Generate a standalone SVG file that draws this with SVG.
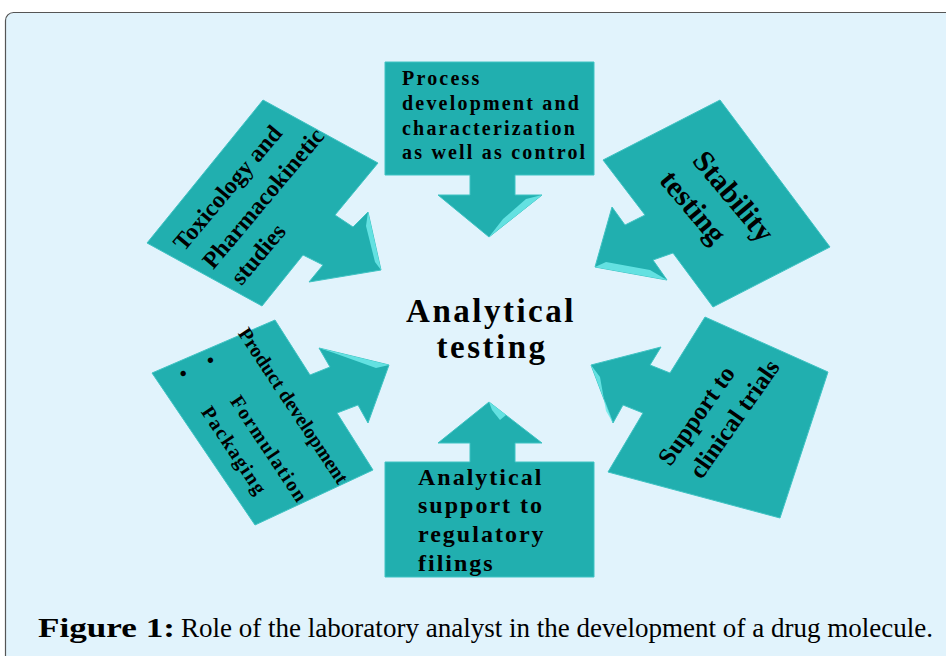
<svg xmlns="http://www.w3.org/2000/svg" width="946" height="656" viewBox="0 0 946 656">
<defs>
<style>
.shape{fill:#21AFAF;stroke:#3FC3C3;stroke-width:1;stroke-linejoin:miter}
.hl{fill:#6FEAEA;opacity:0.85}
.t{font-family:"Liberation Serif","Times New Roman",serif;font-weight:bold;fill:#000}
.cap{font-family:"Liberation Serif","Times New Roman",serif;fill:#000;font-size:27px}
</style>
</defs>
<rect x="0" y="0" width="946" height="656" fill="#ffffff"/>
<rect x="5.5" y="12.5" width="960" height="670" rx="8" ry="8" fill="#E1F3FC" stroke="#555555" stroke-width="1.2"/>

<g id="node-process">
<polygon class="shape" points="385,62 594,62 594,175 515,175 515,195 542,195 489,237 438,195 470,195 470,175 385,175"/>
<polygon class="hl" points="489,237 542,195 526,199 503,219"/>
<g class="t" font-size="20" letter-spacing="2.2">
<text x="402" y="85">Process</text>
<text x="402" y="110">development and</text>
<text x="402" y="134.5">characterization</text>
<text x="402" y="159">as well as control</text>
</g>
</g>

<g id="node-regulatory">
<polygon class="shape" points="385,462 470,462 470,443 438,443 489,402 542,443 515,443 515,462 594,462 594,577 385,577"/>
<polygon class="hl" points="489,402 506,415 500,420 492,410"/>
<g class="t" font-size="24" letter-spacing="2">
<text x="418" y="485">Analytical</text>
<text x="418" y="513">support to</text>
<text x="418" y="542">regulatory</text>
<text x="418" y="571">filings</text>
</g>
</g>

<g id="node-toxicology">
<polygon class="shape" points="263,100 378,163 335,215 353,227 368,212 381,270 309,282 323,265 303,255 262,306 147,243"/>
<polygon class="hl" points="368,212 381,270 375,262 366,226"/>
<g class="t" font-size="24" transform="rotate(-50)">
<text x="-75" y="303">Toxicology and</text>
<text x="-70" y="337">Pharmacokinetic</text>
<text x="-64" y="369">studies</text>
</g>
</g>

<g id="node-stability">
<polygon class="shape" points="603,160 720,100 830,247 713,307 673,253 653,260 667,280 595,267 612,207 625,225 645,215"/>
<polygon class="hl" points="595,267 667,280 650,270 606,262"/>
<g class="t" font-size="30" transform="rotate(50)" text-anchor="middle">
<text x="622" y="-426">Stability</text>
<text x="604" y="-388">testing</text>
</g>
</g>

<g id="node-product">
<polygon class="shape" points="275,320 310,375 330,367 319,348 389,365 368,423 358,405 337,413 373,470 255,525 152,373"/>
<polygon class="hl" points="319,348 389,365 376,368 334,353"/>
<g class="t" font-size="20" transform="rotate(56.5)">
<text x="409" y="-14">Product development</text>
<text x="413" y="30">•</text>
<text x="461" y="30" letter-spacing="1.5">Formulation</text>
<text x="409" y="60">•</text>
<text x="454" y="60" letter-spacing="1.5">Packaging</text>
</g>
</g>

<g id="node-clinical">
<polygon class="shape" points="705,317 828,372 780,518 608,472 643,413 623,405 613,423 591,365 661,347 650,365 670,373"/>
<polygon class="hl" points="591,365 613,423 606,411 600,377"/>
<g class="t" font-size="25" transform="rotate(-55)" text-anchor="middle">
<text x="59" y="817">Support to</text>
<text x="78" y="850">clinical trials</text>
</g>
</g>

<g id="node-center">
<g class="t" font-size="33" letter-spacing="2.5" text-anchor="middle">
<text x="491" y="322">Analytical</text>
<text x="492" y="358">testing</text>
</g>
</g>

<g id="caption">
<text class="cap" y="637"><tspan x="38" font-weight="bold" textLength="137" lengthAdjust="spacingAndGlyphs">Figure 1:</tspan><tspan x="181" textLength="752" lengthAdjust="spacingAndGlyphs">Role of the laboratory analyst in the development of a drug molecule.</tspan></text>
</g>
</svg>
